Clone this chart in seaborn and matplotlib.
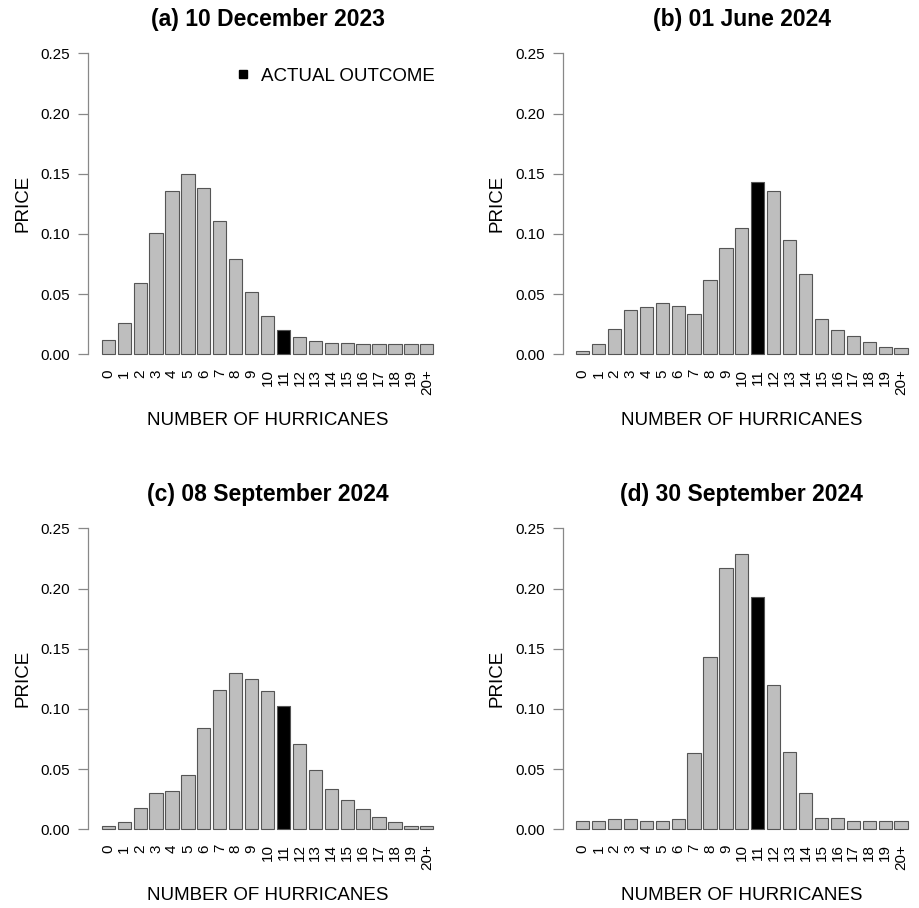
import numpy as np
import pandas as pd
import matplotlib
matplotlib.use("Agg")
import matplotlib.pyplot as plt
import seaborn as sns
from matplotlib.lines import Line2D

# ---------------------------------------------------------------
# Data
# ---------------------------------------------------------------
categories = ["0", "1", "2", "3", "4", "5", "6", "7", "8", "9", "10",
              "11", "12", "13", "14", "15", "16", "17", "18", "19", "20+"]
actual_outcome = "11"

titles = ["(a) 10 December 2023", "(b) 01 June 2024",
          "(c) 08 September 2024", "(d) 30 September 2024"]

prices_dec23 = [0.012, 0.026, 0.059, 0.101, 0.136, 0.150, 0.138, 0.111, 0.079, 0.052, 0.032,
                0.020, 0.014, 0.011, 0.009, 0.009, 0.0086, 0.0086, 0.0086, 0.0086, 0.0086]
prices_jun24 = [0.003, 0.0086, 0.021, 0.037, 0.039, 0.043, 0.040, 0.0335, 0.062, 0.088, 0.105,
                0.143, 0.136, 0.095, 0.067, 0.029, 0.020, 0.015, 0.010, 0.0064, 0.0053]
prices_sep08 = [0.0028, 0.006, 0.018, 0.030, 0.032, 0.045, 0.084, 0.116, 0.130, 0.125, 0.115,
                0.102, 0.071, 0.049, 0.0335, 0.024, 0.017, 0.010, 0.006, 0.0028, 0.0028]
prices_sep30 = [0.0072, 0.0072, 0.0083, 0.0083, 0.0072, 0.0072, 0.0083, 0.063, 0.143, 0.217, 0.229,
                0.193, 0.120, 0.064, 0.030, 0.009, 0.009, 0.0072, 0.0072, 0.0072, 0.0072]
all_prices = [prices_dec23, prices_jun24, prices_sep08, prices_sep30]

# ---------------------------------------------------------------
# Styling (R base-graphics look)
# ---------------------------------------------------------------
sns.set_style("white")
plt.rcParams["font.family"] = ["Liberation Sans", "DejaVu Sans"]
plt.rcParams["text.color"] = "black"
plt.rcParams["axes.labelcolor"] = "black"
plt.rcParams["xtick.color"] = "black"
plt.rcParams["ytick.color"] = "black"

W, H = 919, 908
fig = plt.figure(figsize=(W / 100, H / 100), dpi=100)

# axes boxes in pixels: (left, top, right, bottom)
boxes = [(88.4, 41.3, 446.7, 366.3), (562.7, 41.3, 921.0, 366.3),
         (88.4, 516.3, 446.7, 841.3), (562.7, 516.3, 921.0, 841.3)]

for i, (title, prices) in enumerate(zip(titles, all_prices)):
    l, t, r, b = boxes[i]
    ax = fig.add_axes([l / W, 1 - b / H, (r - l) / W, (b - t) / H])

    df = pd.DataFrame({"n": categories, "price": prices})
    df["kind"] = np.where(df["n"] == actual_outcome, "actual", "other")

    sns.barplot(data=df, x="n", y="price", hue="kind", order=categories,
                palette={"other": "#bebebe", "actual": "black"}, dodge=False,
                width=1 / 1.2, edgecolor="#555555", linewidth=0.8,
                legend=False, ax=ax)

    ax.set_xlim(-1.25, 21.25)
    ax.set_ylim(-0.01, 0.26)
    ax.set_yticks([0, 0.05, 0.10, 0.15, 0.20, 0.25])
    ax.set_yticklabels(["0.00", "0.05", "0.10", "0.15", "0.20", "0.25"])

    for side in ["top", "right", "bottom"]:
        ax.spines[side].set_visible(False)
    ax.spines["left"].set_bounds(0, 0.25)
    ax.spines["left"].set_color("#888888")
    ax.spines["left"].set_linewidth(0.9)

    ax.tick_params(axis="y", length=7, width=0.9, color="#888888", pad=6,
                   labelsize=11, labelcolor="black", direction="out", left=True)
    ax.tick_params(axis="x", length=0, pad=2, labelsize=11, labelcolor="black",
                   labelrotation=90)

    ax.set_title(title, fontsize=16.5, fontweight="bold", pad=11, color="black")
    ax.set_xlabel("NUMBER OF HURRICANES", fontsize=13.5)
    ax.set_ylabel("PRICE", fontsize=13.5)
    ax.xaxis.set_label_coords(0.5, -0.14)
    ax.yaxis.set_label_coords(-0.16, 0.5)

    if i == 0:
        handle = Line2D([], [], marker="s", color="black", linestyle="none",
                        markersize=5.8)
        ax.legend([handle], ["ACTUAL OUTCOME"], loc="center right",
                  bbox_to_anchor=(0.9674, 0.8932), frameon=False,
                  fontsize=13.5, handletextpad=0.45, borderaxespad=0,
                  borderpad=0, handlelength=1.0)

plt.savefig("out.png", dpi=100)
